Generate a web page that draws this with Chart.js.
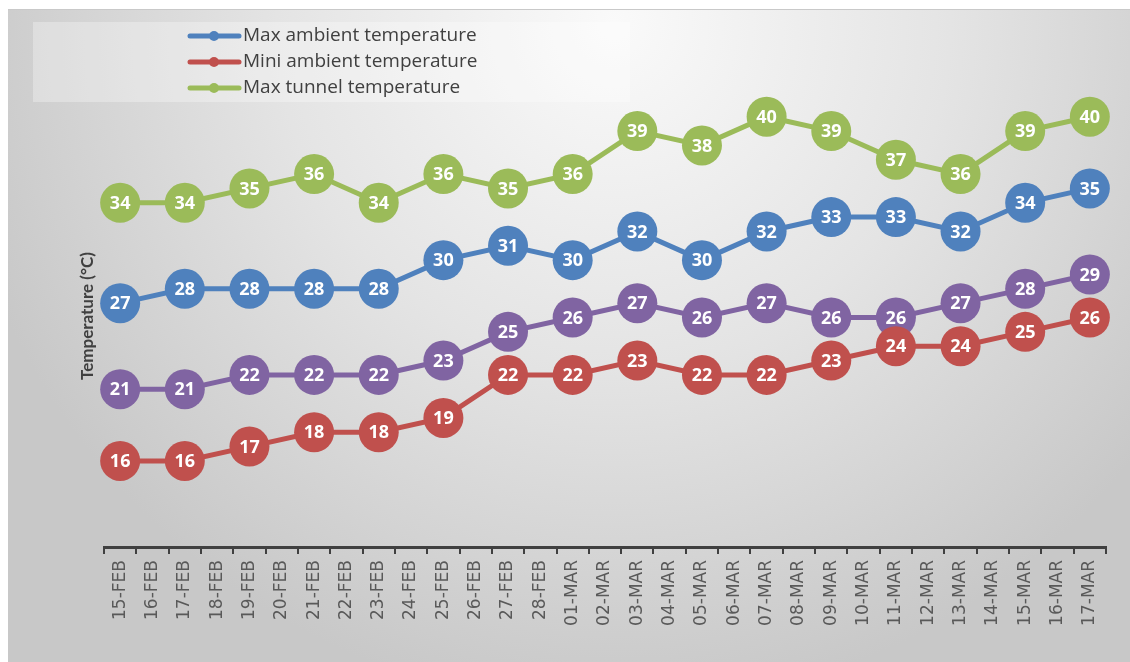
<!DOCTYPE html>
<html>
<head>
<script src="https://cdn.jsdelivr.net/npm/chart.js"></script>
<style>
  body { margin: 0; padding: 0; background: #fff; width: 1130px; height: 662px; overflow: hidden; }
  #frame {
    position: absolute; left: 8px; top: 9px; width: 1122px; height: 653px;
    border-top: 1px solid #c9c9c9;
    background: radial-gradient(ellipse 60% 105% at 54% 2%, #fafafa 0%, #e4e4e4 50%, #c8c8c8 100%);
  }
  canvas { display: block; }
</style>
</head>
<body>
<div id="frame"><canvas id="myChart" width="1122" height="652"></canvas></div>
<script>
// x axis: every day, points only every second day
const categories = [
  '15-FEB','16-FEB','17-FEB','18-FEB','19-FEB','20-FEB','21-FEB','22-FEB','23-FEB','24-FEB',
  '25-FEB','26-FEB','27-FEB','28-FEB','01-MAR','02-MAR','03-MAR','04-MAR','05-MAR','06-MAR',
  '07-MAR','08-MAR','09-MAR','10-MAR','11-MAR','12-MAR','13-MAR','14-MAR','15-MAR','16-MAR','17-MAR'
];
const pointDates = [
  '15-FEB','17-FEB','19-FEB','21-FEB','23-FEB','25-FEB','27-FEB','01-MAR',
  '03-MAR','05-MAR','07-MAR','09-MAR','11-MAR','13-MAR','15-MAR','17-MAR'
];
const maxAmbient = [27, 28, 28, 28, 28, 30, 31, 30, 32, 30, 32, 33, 33, 32, 34, 35];
const minAmbient = [16, 16, 17, 18, 18, 19, 22, 22, 23, 22, 22, 23, 24, 24, 25, 26];
const maxTunnel  = [34, 34, 35, 36, 34, 36, 35, 36, 39, 38, 40, 39, 37, 36, 39, 40];
const minTunnel  = [21, 21, 22, 22, 22, 23, 25, 26, 27, 26, 27, 26, 26, 27, 28, 29];

const toPoints = vals => vals.map((v, i) => ({ x: pointDates[i], y: v }));

function series(label, vals, color, legend) {
  return {
    label, data: toPoints(vals), showInLegend: legend,
    borderColor: color, backgroundColor: color,
    borderWidth: 5, pointRadius: 20, pointHoverRadius: 20,
    pointBorderWidth: 0, pointBackgroundColor: color, tension: 0
  };
}

// white numbers inside each marker
const valueLabels = {
  id: 'valueLabels',
  afterDatasetsDraw(chart) {
    const ctx = chart.ctx;
    ctx.save();
    ctx.font = 'bold 18px "Open Sans", sans-serif';
    ctx.fillStyle = '#ffffff';
    ctx.textAlign = 'center';
    ctx.textBaseline = 'middle';
    chart.data.datasets.forEach((ds, di) => {
      chart.getDatasetMeta(di).data.forEach((pt, i) => {
        ctx.fillText(String(ds.data[i].y), pt.x, pt.y + 1);
      });
    });
    ctx.restore();
  }
};

// legend box top-left, one entry per line; y axis title
const boxLegend = {
  id: 'boxLegend',
  afterDraw(chart) {
    const ctx = chart.ctx;
    ctx.save();
    ctx.fillStyle = 'rgba(255,255,255,0.3)';
    ctx.fillRect(25, 12, 597, 80);
    ctx.font = '19px "Open Sans", sans-serif';
    ctx.textBaseline = 'middle';
    let y = 26;
    chart.data.datasets.forEach(ds => {
      if (!ds.showInLegend) return;
      ctx.strokeStyle = ds.borderColor;
      ctx.lineWidth = 5;
      ctx.lineCap = 'round';
      ctx.beginPath();
      ctx.moveTo(182, y);
      ctx.lineTo(231, y);
      ctx.stroke();
      ctx.fillStyle = ds.borderColor;
      ctx.beginPath();
      ctx.arc(206, y, 5, 0, Math.PI * 2);
      ctx.fill();
      ctx.fillStyle = '#404040';
      ctx.fillText(ds.label, 235, y);
      y += 26;
    });

    ctx.translate(80, 306);
    ctx.rotate(-Math.PI / 2);
    ctx.textAlign = 'center';
    ctx.font = 'bold 17px Lato, sans-serif';
    ctx.fillText('Temperature (°C)', 0, 0);
    ctx.restore();
  }
};

new Chart(document.getElementById('myChart'), {
  type: 'line',
  data: {
    labels: categories,
    datasets: [
      series('Max ambient temperature', maxAmbient, '#4f81bd', true),
      series('Mini ambient temperature', minAmbient, '#c0504d', true),
      series('Max tunnel temperature', maxTunnel, '#9bbb59', true),
      series('Mini tunnel temperature', minTunnel, '#8064a2', false)
    ]
  },
  options: {
    responsive: false,
    animation: false,
    layout: { padding: { left: 60, right: 24, top: 35, bottom: 0 } },
    plugins: { legend: { display: false }, tooltip: { enabled: false } },
    scales: {
      x: {
        type: 'category',
        offset: true,
        afterFit: s => { s.height = 115; },
        grid: {
          offset: true, drawOnChartArea: false, drawTicks: true,
          tickLength: 7, color: '#404040', lineWidth: 2
        },
        border: { display: true, color: '#404040', width: 3 },
        ticks: {
          autoSkip: false, minRotation: 90, maxRotation: 90, padding: 6,
          color: '#595959', font: { family: '"DejaVu Sans"', size: 17 }
        }
      },
      y: {
        min: 10, max: 45,
        afterFit: s => { s.width = 36; },
        grid: { display: false },
        border: { display: false },
        ticks: { display: false }
      }
    }
  },
  plugins: [valueLabels, boxLegend]
});
</script>
</body>
</html>
